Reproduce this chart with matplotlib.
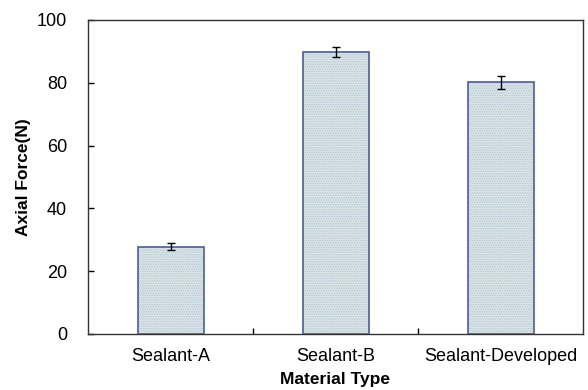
import numpy as np
import matplotlib
matplotlib.use('Agg')
import matplotlib.pyplot as plt

plt.rcParams['font.family'] = ['Liberation Sans', 'DejaVu Sans']
plt.rcParams['hatch.linewidth'] = 0.8

# dados
materiais = ['Sealant-A', 'Sealant-B', 'Sealant-Developed']
forca = [27.8, 89.8, 80.1]
erro = [1.2, 1.5, 2.1]

fig = plt.figure(figsize=(5.88, 3.9), dpi=100)
ax = fig.add_axes([88/588, 1 - 334/390, (583-88)/588, (334-20)/390])

x = np.arange(len(materiais))
# preenchimento pontilhado
ax.bar(x, forca, width=0.4, color='#dde7eb', edgecolor='#b3c5cd', hatch='.......', linewidth=0, zorder=2)
ax.bar(x, forca, width=0.4, color='none', edgecolor='#4a5d96', linewidth=1.2, zorder=3)
ax.errorbar(x, forca, yerr=erro, fmt='none', ecolor='black', elinewidth=1, capsize=3, capthick=1, zorder=4)

ax.set_xlim(-0.5, 2.5)
ax.set_ylim(0, 100)
ax.set_yticks([0, 20, 40, 60, 80, 100])
ax.set_xticks(x)
ax.set_xticklabels(materiais)
ax.set_xticks([0.5, 1.5], minor=True)
ax.tick_params(axis='x', which='major', length=0, labelsize=13, pad=10)
ax.tick_params(axis='x', which='minor', direction='in', length=4, width=1)
ax.tick_params(axis='y', direction='in', length=4, width=1, labelsize=13, pad=15)

for s in ax.spines.values():
    s.set_linewidth(1)
    s.set_color('#333333')

ax.set_xlabel('Material Type', fontsize=12.5, fontweight='bold', labelpad=5)
ax.set_ylabel('Axial Force(N)', fontsize=12.5, fontweight='bold', labelpad=4)

fig.savefig('out.png', dpi=100)
